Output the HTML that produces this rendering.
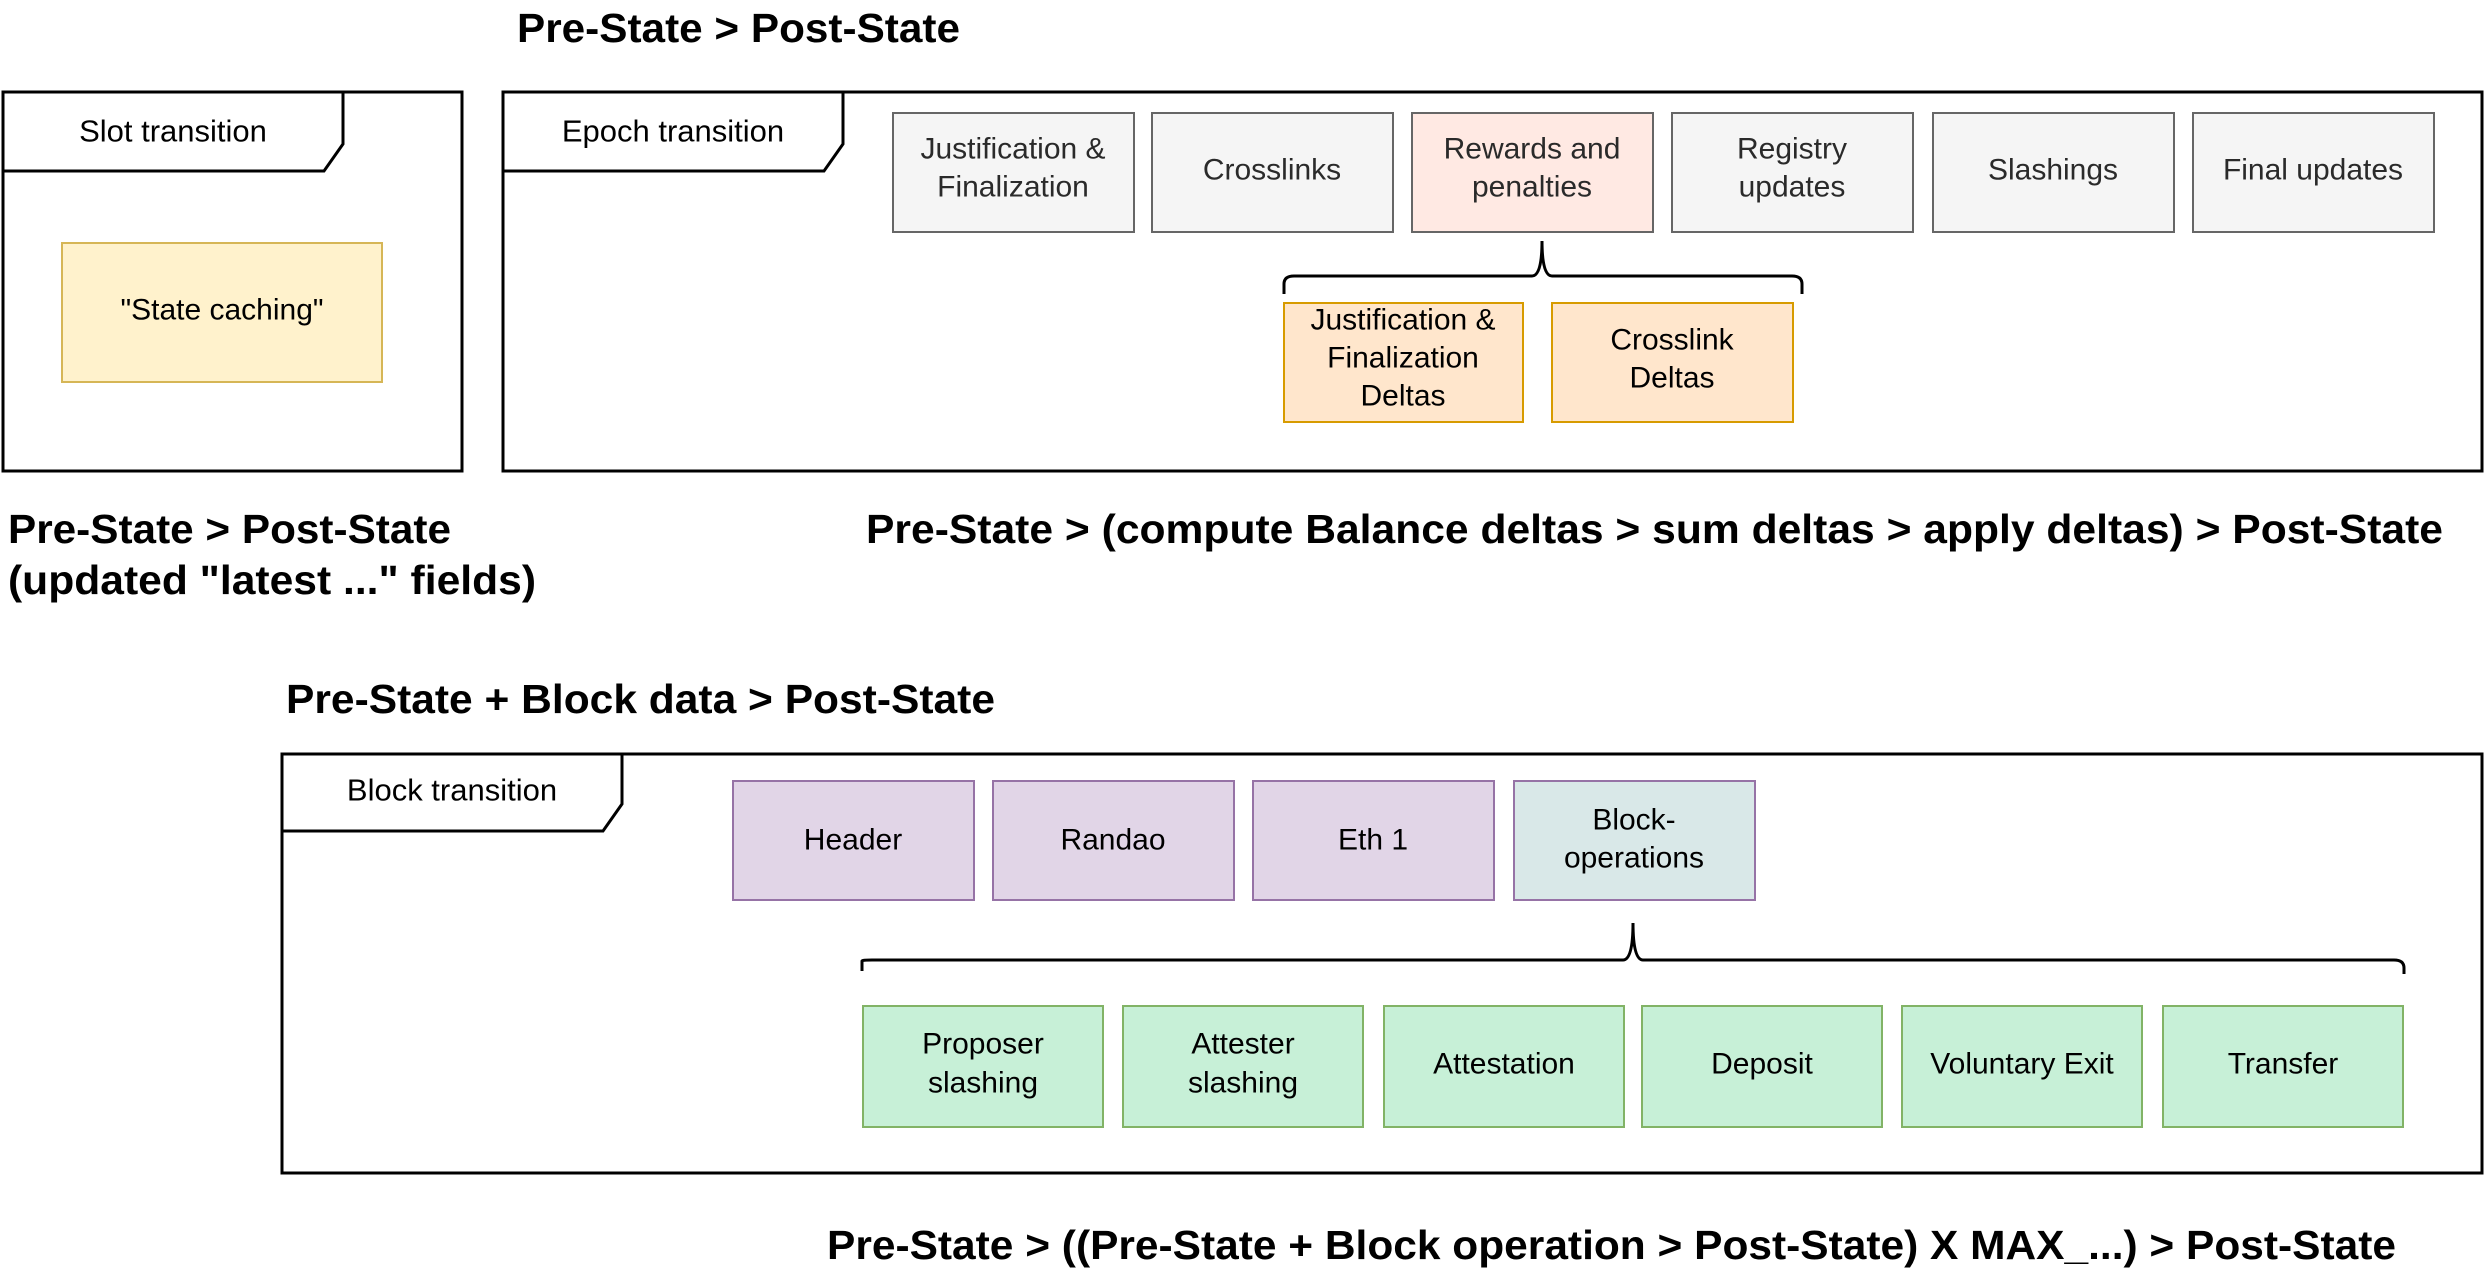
<!DOCTYPE html>
<html><head><meta charset="utf-8"><style>
html,body{margin:0;padding:0;background:#fff;}
svg{display:block;}
text{font-family:"Liberation Sans",Arial,sans-serif;}
.t{font-size:41px;font-weight:bold;fill:#000;}
.b{font-size:30px;text-anchor:middle;dominant-baseline:central;}
</style></head><body>
<svg width="2488" height="1274" viewBox="0 0 2488 1274" xmlns="http://www.w3.org/2000/svg">
<g fill="none" stroke="#000" stroke-width="3">
<rect x="3" y="92" width="459" height="379" fill="#fff"/>
<path d="M3 92 H343 V144 L324 171 H3"/>
<rect x="503" y="92" width="1979" height="379" fill="#fff"/>
<path d="M503 92 H843 V144 L824 171 H503"/>
<rect x="282" y="754" width="2200" height="419" fill="#fff"/>
<path d="M282 754 H622 V804 L603 831 H282"/>
</g>
<g class="b">
<text x="173" y="131" font-size="31">Slot transition</text>
<text x="673" y="131" font-size="31">Epoch transition</text>
<text x="452" y="790" font-size="31">Block transition</text>
</g>
<rect x="62" y="243" width="320" height="139" fill="#fff2cc" stroke="#d6b656" stroke-width="2"/>
<text class="b" x="222" y="310">"State caching"</text>
<g stroke="#666" stroke-width="2" fill="#f5f5f5">
<rect x="893" y="113" width="241" height="119"/>
<rect x="1152" y="113" width="241" height="119"/>
<rect x="1412" y="113" width="241" height="119" fill="#ffe9e3"/>
<rect x="1672" y="113" width="241" height="119"/>
<rect x="1933" y="113" width="241" height="119"/>
<rect x="2193" y="113" width="241" height="119"/>
</g>
<g class="b" fill="#2a2a2a">
<text x="1013" y="149">Justification &amp;</text><text x="1013" y="187">Finalization</text>
<text x="1272" y="170">Crosslinks</text>
<text x="1532" y="149">Rewards and</text><text x="1532" y="187">penalties</text>
<text x="1792" y="149">Registry</text><text x="1792" y="187">updates</text>
<text x="2053" y="170">Slashings</text>
<text x="2313" y="170">Final updates</text>
</g>
<path d="M1284 294 V284 Q1284 276 1294 276 H1532 Q1542 276 1542 241 Q1542 276 1552 276 H1792 Q1802 276 1802 284 V294" fill="none" stroke="#000" stroke-width="3"/>
<g stroke="#d79b00" stroke-width="2" fill="#ffe6cc">
<rect x="1284" y="303" width="239" height="119"/>
<rect x="1552" y="303" width="241" height="119"/>
</g>
<g class="b">
<text x="1403" y="320">Justification &amp;</text><text x="1403" y="358">Finalization</text><text x="1403" y="396">Deltas</text>
<text x="1672" y="340">Crosslink</text><text x="1672" y="378">Deltas</text>
</g>
<text class="t" x="517" y="42" textLength="443" lengthAdjust="spacingAndGlyphs">Pre-State &gt; Post-State</text>
<text class="t" x="8" y="543" textLength="443" lengthAdjust="spacingAndGlyphs">Pre-State &gt; Post-State</text>
<text class="t" x="8" y="594" textLength="528" lengthAdjust="spacingAndGlyphs">(updated "latest ..." fields)</text>
<text class="t" x="866" y="543" textLength="1577" lengthAdjust="spacingAndGlyphs">Pre-State &gt; (compute Balance deltas &gt; sum deltas &gt; apply deltas) &gt; Post-State</text>
<text class="t" x="286" y="713" textLength="709" lengthAdjust="spacingAndGlyphs">Pre-State + Block data &gt; Post-State</text>
<text class="t" x="827" y="1259" textLength="1569" lengthAdjust="spacingAndGlyphs">Pre-State &gt; ((Pre-State + Block operation &gt; Post-State) X MAX_...) &gt; Post-State</text>
<g stroke="#9673a6" stroke-width="2" fill="#e1d5e7">
<rect x="733" y="781" width="241" height="119"/>
<rect x="993" y="781" width="241" height="119"/>
<rect x="1253" y="781" width="241" height="119"/>
<rect x="1514" y="781" width="241" height="119" fill="#d9e8e8"/>
</g>
<g class="b">
<text x="853" y="840">Header</text>
<text x="1113" y="840">Randao</text>
<text x="1373" y="840">Eth 1</text>
<text x="1634" y="820">Block-</text><text x="1634" y="858">operations</text>
</g>
<path d="M862 971 V961 Q862 960 872 960 H1623 Q1633 960 1633 923 Q1633 960 1643 960 H2394 Q2404 960 2404 968 V974" fill="none" stroke="#000" stroke-width="3"/>
<g stroke="#82b366" stroke-width="2" fill="#c7f0d7">
<rect x="863" y="1006" width="240" height="121"/>
<rect x="1123" y="1006" width="240" height="121"/>
<rect x="1384" y="1006" width="240" height="121"/>
<rect x="1642" y="1006" width="240" height="121"/>
<rect x="1902" y="1006" width="240" height="121"/>
<rect x="2163" y="1006" width="240" height="121"/>
</g>
<g class="b">
<text x="983" y="1044">Proposer</text><text x="983" y="1083">slashing</text>
<text x="1243" y="1044">Attester</text><text x="1243" y="1083">slashing</text>
<text x="1504" y="1064">Attestation</text>
<text x="1762" y="1064">Deposit</text>
<text x="2022" y="1064">Voluntary Exit</text>
<text x="2283" y="1064">Transfer</text>
</g>
</svg>
</body></html>
